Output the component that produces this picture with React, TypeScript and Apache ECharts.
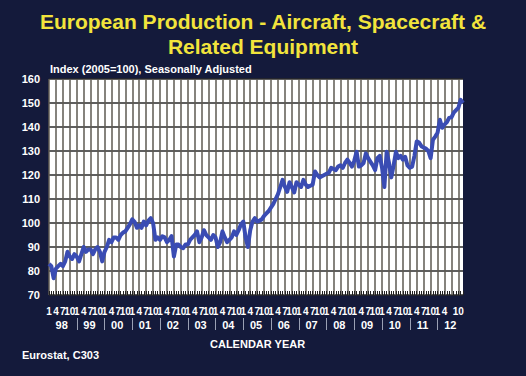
import React, { useEffect, useRef } from "react";
import * as echarts from "echarts";

const years = ["98", "99", "00", "01", "02", "03", "04", "05", "06", "07", "08", "09", "10", "11", "12"];
const months = [1, 2, 3, 4, 5, 6, 7, 8, 9, 10, 11, 12];
const yTicks = { min: 70, max: 160, interval: 10 };

// Monthly index, Jan 1998 .. Dec 2012
const values = [
  // 1998
  83, 82, 77, 81, 82, 83, 82, 84, 88, 86, 85, 87,
  // 1999
  86, 84, 87, 90, 88, 89, 89, 87, 89, 90, 88, 84,
  // 2000
  88, 90, 93, 92, 94, 94, 93, 95, 96, 96.5, 98, 99.5,
  // 2001
  101.5, 100.5, 98, 99, 98, 100.6, 99, 101, 102, 100, 93, 94,
  // 2002
  93, 94.5, 94, 92, 93, 94.5, 86, 91, 91, 90, 89.5, 91,
  // 2003
  91, 93, 94, 95, 96.5, 92, 94, 97, 95, 94, 93, 95,
  // 2004
  94, 90, 92, 96.5, 94, 92, 93, 94, 96.5, 95, 97, 99.5,
  // 2005
  100.6, 94, 90, 97, 100.6, 102, 100.6, 101, 101.5, 103, 104, 105,
  // 2006
  106.5, 108, 110, 112, 115, 118, 115, 113, 117, 115, 112.7, 117,
  // 2007
  116, 115, 118, 116, 115, 115.5, 116, 121.5, 120, 119, 119.5, 120,
  // 2008
  120.5, 121, 123, 122.5, 122, 123.5, 124, 123, 125, 126.4, 125, 123.5,
  // 2009
  126, 129.7, 123.5, 124, 125, 129, 127, 125.5, 124, 122, 127, 128,
  // 2010
  123, 115, 129.7, 125, 119, 124, 129.7, 127, 128, 126.4, 127.6, 124,
  // 2011
  123, 123.5, 128, 134, 133.5, 132, 131.4, 131, 130, 127, 134.7, 136,
  // 2012
  137.6, 143, 139.7, 141, 142, 143.8, 144, 146, 147, 148, 151.3, 150,
];

const categories: string[] = [];
years.forEach((y) => months.forEach((m) => categories.push(y + "-" + m)));

const FONT = "'Liberation Sans', Arial, sans-serif";

export default function App() {
  const ref = useRef<HTMLDivElement>(null);
  useEffect(() => {
    if (!ref.current) return;
    const chart = echarts.init(ref.current, null, { renderer: "svg" });
    chart.setOption({
      animation: false,
      backgroundColor: "#141a3b",
      title: [
        {
          text: "European Production - Aircraft, Spacecraft &\nRelated Equipment",
          left: "center",
          top: 9,
          padding: 0,
          textStyle: {
            color: "#f2e43c",
            fontSize: 21,
            fontWeight: "bold",
            fontFamily: FONT,
            lineHeight: 25,
            align: "center",
          },
        },
        {
          text: "Index (2005=100), Seasonally Adjusted",
          left: 50,
          top: 63,
          padding: 0,
          textStyle: { color: "#ffffff", fontSize: 11, fontWeight: "bold", fontFamily: FONT },
        },
      ],
      graphic: [
        {
          type: "text",
          left: 210,
          top: 338,
          style: { text: "CALENDAR YEAR", fill: "#ffffff", font: "bold 11px " + FONT },
        },
        {
          type: "text",
          left: 22,
          top: 349,
          style: { text: "Eurostat, C303", fill: "#ffffff", font: "bold 11px " + FONT },
        },
      ],
      grid: {
        left: 49,
        right: 63,
        top: 79,
        bottom: 81,
        show: true,
        backgroundColor: "#ffffff",
        borderWidth: 0,
      },
      xAxis: [
        {
          type: "category",
          data: categories,
          boundaryGap: false,
          axisLine: { show: false },
          axisTick: {
            show: true,
            inside: true,
            length: 4,
            interval: 0,
            lineStyle: { color: "#222222", width: 1 },
          },
          axisLabel: {
            interval: (i: number) => i % 3 === 0,
            formatter: (v: string) => v.split("-")[1],
            color: "#ffffff",
            fontSize: 10,
            fontWeight: "bold",
            fontFamily: FONT,
            margin: 11,
            hideOverlap: false,
            showMaxLabel: true,
          },
          splitLine: {
            show: true,
            interval: (i: number) => i % 3 === 0,
            lineStyle: { color: "#5e5a52", width: 1.5 },
          },
        },
        {
          type: "category",
          data: categories,
          boundaryGap: false,
          position: "bottom",
          offset: 35,
          axisLine: { show: false },
          axisTick: {
            show: true,
            inside: true,
            length: 12,
            interval: (i: number) => i % 12 === 0 && i > 0,
            lineStyle: { color: "#9aa0b4", width: 1 },
          },
          axisLabel: {
            inside: true,
            interval: (i: number) => i % 12 === 6,
            formatter: (v: string) => v.split("-")[0],
            color: "#ffffff",
            fontSize: 11,
            fontWeight: "bold",
            fontFamily: FONT,
            margin: 0,
            padding: [0, 2.3, 0, 0],
          },
          splitLine: { show: false },
        },
      ],
      yAxis: {
        type: "value",
        min: yTicks.min,
        max: yTicks.max,
        interval: yTicks.interval,
        axisLine: { show: false },
        axisTick: { show: false },
        axisLabel: {
          color: "#ffffff",
          fontSize: 11,
          fontWeight: "bold",
          fontFamily: FONT,
          margin: 9,
        },
        splitLine: { show: true, lineStyle: { color: "#2a2a2a", width: 1.5 } },
      },
      series: [
        {
          type: "line",
          data: values,
          xAxisIndex: 0,
          symbol: "none",
          lineStyle: { color: "#3a4cb3", width: 4, join: "round" },
          itemStyle: { color: "#3a4cb3" },
        },
      ],
    });
    return () => chart.dispose();
  }, []);
  return (
    <div
      ref={ref}
      style={{ position: "fixed", left: 0, top: 0, width: 526, height: 376 }}
    />
  );
}
